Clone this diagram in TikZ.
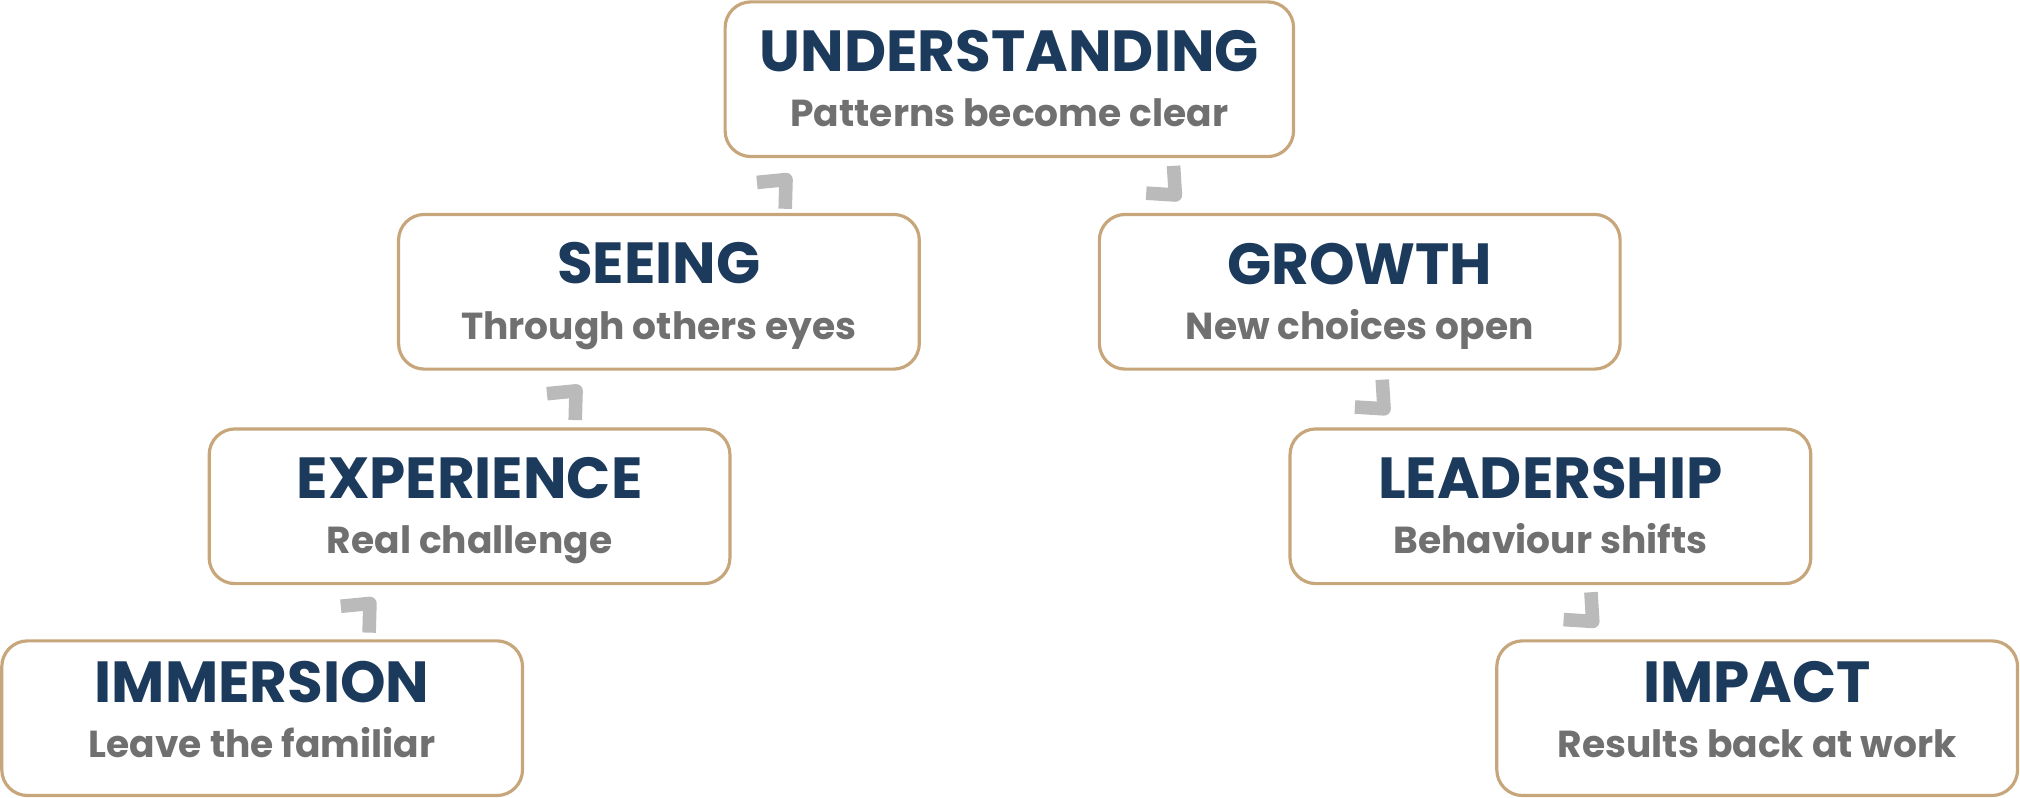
\documentclass[tikz,border=0pt]{standalone}
\usepackage{fontspec}
\setmainfont{Poppins}
\usetikzlibrary{positioning,calc}
\definecolor{navy}{RGB}{27,58,92}
\definecolor{subgray}{RGB}{112,112,112}
\definecolor{boxline}{RGB}{198,166,122}
\definecolor{chevgray}{RGB}{186,186,186}
\newcommand{\stage}[3][2.2pt]{{\fontsize{12.8}{14}\selectfont\color{navy}\rule{0pt}{11pt}#2}\\{\color{subgray}#3\rule[-#1]{0pt}{1pt}}}
\newcommand{\chev}[2]{\draw[chev, shift={(#1)}, rotate=#2] (-8,15) -- (9,0) -- (-8,-15);}
\tikzstyle{stagebox} = [rectangle, draw=boxline, line width=0.7pt, rounded corners=0.2cm, fill=white, minimum width=4.04cm, minimum height=1.2cm, align=center, inner sep=0pt, font=\bfseries\fontsize{8.3}{12.2}\selectfont]
\tikzstyle{chev} = [draw=chevgray, line width=3pt, line join=round]

\begin{document}
\begin{tikzpicture}[x=0.01cm, y=0.01cm]

    \useasboundingbox (0,0) rectangle (1568,-619);

    \node[stagebox, minimum width=4.41cm] (und) at (783.5,-61.5) {\stage{UNDERSTANDING}{Patterns become clear}};
    \node[stagebox] (see) at (511.5,-226.5)  {\stage{SEEING}{Through others eyes}};
    \node[stagebox] (gro) at (1055.5,-226.5) {\stage{GROWTH}{New choices open}};
    \node[stagebox] (exp) at (364.5,-393)    {\stage{EXPERIENCE}{Real challenge}};
    \node[stagebox] (lea) at (1203.5,-393)   {\stage{LEADERSHIP}{Behaviour shifts}};
    \node[stagebox] (imm) at (203.5,-557.5)  {\stage[5.8pt]{IMMERSION}{Leave the familiar}};
    \node[stagebox] (imp) at (1364,-557.5)   {\stage[5.8pt]{IMPACT}{Results back at work}};

    % chevrons between the steps
    \coordinate (c1) at (281,-475);
    \coordinate (c2) at (441,-310);
    \coordinate (c3) at (604,-146);
    \coordinate (c4) at (906,-145);
    \coordinate (c5) at (1068,-311);
    \coordinate (c6) at (1230,-476);

    \chev{c1}{47}
    \chev{c2}{47}
    \chev{c3}{47}
    \chev{c4}{-45}
    \chev{c5}{-45}
    \chev{c6}{-45}

\end{tikzpicture}
\end{document}
